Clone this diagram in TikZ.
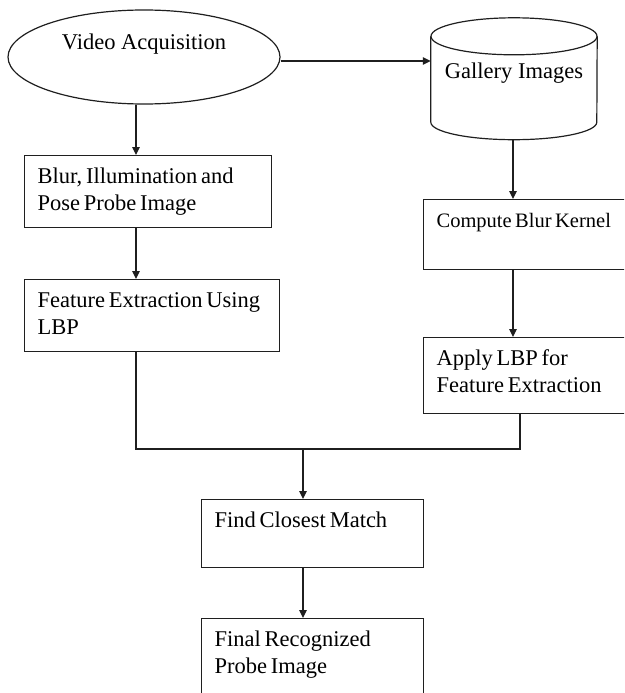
\documentclass[tikz,border=0pt]{standalone}
\usepackage{fontspec}
\setmainfont{Liberation Serif}
\usetikzlibrary{arrows.meta,shapes.geometric}
\newcommand\diagfont{\fontsize{22.5}{27}\selectfont}
\newcommand\smallfont{\fontsize{20.5}{27}\selectfont}
\newcommand\tsp{\spaceskip 0.17em plus 0.03em minus 0.03em\relax\xspaceskip\spaceskip\hyphenpenalty 10000\relax}
\begin{document}
\begin{tikzpicture}[x=1pt,y=-1pt,
  every node/.style={font=\diagfont},
  ln/.style={line width=1.2pt,draw=black!88},
  arr/.style={ln,-{Triangle[length=8pt,width=7.5pt]}},
  procbox/.style={ln,draw,anchor=north west,inner xsep=13pt,inner ysep=0pt,
    align=left,text height=28pt},
]
\useasboundingbox (0,0) rectangle (624,693);
\clip (0,0) rectangle (624,693);
\fill[white] (0,0) rectangle (624,693);

% start ellipse
\node[ellipse,ln,draw,minimum width=272pt,minimum height=94pt,inner sep=0pt,
  text height=16pt,text depth=32pt] (vid) at (144,57) {Video Acquisition};

% gallery cylinder
\node[inner sep=0pt,minimum width=166pt,minimum height=121.5pt,
  text height=10pt,text depth=10pt] (gal) at (514,78.75) {Gallery Images};
\draw[ln] ([yshift=-18.5pt]gal.north) ellipse [x radius=83pt,y radius=18.5pt];
\draw[ln] ([yshift=-18.5pt]gal.north west) -- ([yshift=17.5pt]gal.south west)
  arc[start angle=180,end angle=360,x radius=83pt,y radius=17.5pt]
  -- ([yshift=-18.5pt]gal.north east);

% process boxes
\node[procbox,text width=221pt,text depth=44pt] (b1) at (24,155)
  {\tsp Blur, Illumination and\\Pose Probe Image};
\node[procbox,text width=229pt,text depth=44pt] (b2) at (24,279)
  {\tsp Feature Extraction Using\\LBP};
\node[procbox,font=\smallfont,text width=215pt,text depth=42pt] (b3) at (423,199)
  {\tsp Compute Blur Kernel};
\node[procbox,text width=215pt,text depth=48pt] (b4) at (423,337)
  {\tsp Apply LBP for\\Feature Extraction};
\node[procbox,text width=196pt,text depth=40pt] (b5) at (201,499)
  {\tsp Find Closest Match};
\node[procbox,text width=196pt,text depth=80pt] (b6) at (201,618)
  {\tsp Final Recognized\\Probe Image};

% helper coordinates
\coordinate (cl) at (136,0);
\coordinate (cr) at (513,0);
\coordinate (ml) at (136,449);
\coordinate (mr) at (520,449);
\coordinate (mc) at (303,449);

% connectors
\draw[arr] ([xshift=-8pt]vid.south) -- ([xshift=-8pt]vid.south |- b1.north);
\draw[arr] ([yshift=-4pt]vid.east) -- ([yshift=-4pt]vid.east -| gal.west);
\draw[arr] (b1.south -| cl) -- (b2.north -| cl);
\draw[arr] (gal.south -| cr) -- (b3.north -| cr);
\draw[arr] (b3.south -| cr) -- (b4.north -| cr);
\draw[ln] (b2.south -| ml) -- (ml) -- (mr) -- (b4.south -| mr);
\draw[arr] (mc) -- (b5.north -| mc);
\draw[arr] (b5.south -| mc) -- (b6.north -| mc);
\end{tikzpicture}
\end{document}
